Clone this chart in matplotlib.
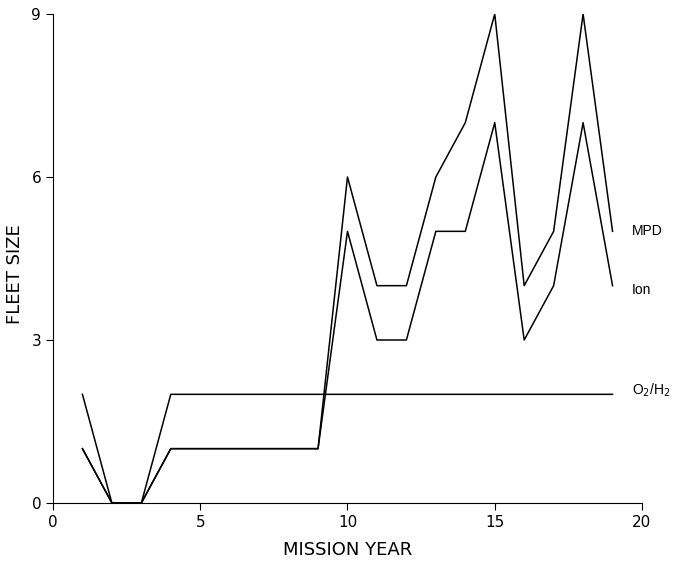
import matplotlib
matplotlib.use("Agg")
import matplotlib.pyplot as plt

years = list(range(1, 20))
mpd = [1, 0, 0, 1, 1, 1, 1, 1, 1, 6, 4, 4, 6, 7, 9, 4, 5, 9, 5]
ion = [1, 0, 0, 1, 1, 1, 1, 1, 1, 5, 3, 3, 5, 5, 7, 3, 4, 7, 4]
o2h2 = [2, 0, 0, 2, 2, 2, 2, 2, 2, 2, 2, 2, 2, 2, 2, 2, 2, 2, 2]

fig = plt.figure(figsize=(6.75, 5.61), dpi=100)
ax = fig.add_axes([0.0785, 0.1034, 0.8726, 0.8716])

for ys in (mpd, ion, o2h2):
    ax.plot(years, ys, color='black', lw=1.1)

ax.set_xlim(0, 20)
ax.set_ylim(0, 9)
ax.set_xticks([0, 5, 10, 15, 20])
ax.set_yticks([0, 3, 6, 9])
ax.spines['top'].set_visible(False)
ax.spines['right'].set_visible(False)
ax.tick_params(direction='out', length=5, labelsize=11)
ax.set_xlabel('MISSION YEAR', fontsize=13)
ax.set_ylabel('FLEET SIZE', fontsize=13)
ax.xaxis.set_label_coords(0.5, -0.096)
ax.xaxis.label.set_va('center')
ax.yaxis.set_label_coords(-0.0645, 0.468)
ax.yaxis.label.set_va('center')

lab = dict(fontsize=10, va='center', clip_on=False, family=['Liberation Sans', 'DejaVu Sans'])
ax.text(19.66, 5.0, 'MPD', **lab)
ax.text(19.66, 3.92, 'Ion', **lab)
ax.text(19.66, 2.08, r'O$_2$/H$_2$', **lab)

plt.savefig('out.png', dpi=100)
